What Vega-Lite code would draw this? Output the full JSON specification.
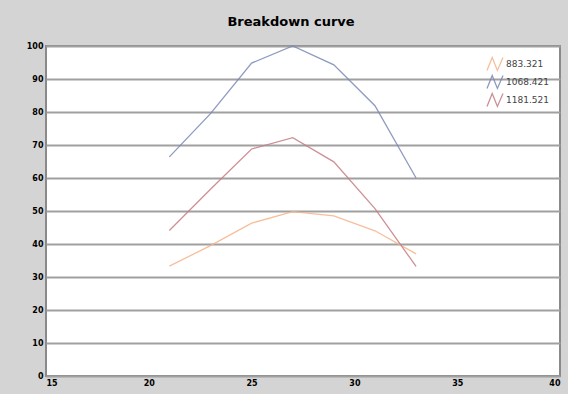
{
  "$schema": "https://vega.github.io/schema/vega-lite/v6.json",
  "autosize": "none",
  "width": 514,
  "height": 330,
  "padding": {"left": 46, "top": 46, "right": 8, "bottom": 18},
  "background": "#d4d4d4",
  "title": {
    "text": "Breakdown curve",
    "font": "DejaVu Sans",
    "fontSize": 13,
    "fontWeight": "bold",
    "color": "#000000",
    "anchor": "middle",
    "frame": "group",
    "dx": -12,
    "dy": 10,
    "baseline": "alphabetic",
    "offset": 13
  },
  "data": {
    "values": [
      {"x": 21, "y": 33.3, "series": "883.321"},
      {"x": 23, "y": 39.5, "series": "883.321"},
      {"x": 25, "y": 46.3, "series": "883.321"},
      {"x": 27, "y": 49.8, "series": "883.321"},
      {"x": 29, "y": 48.5, "series": "883.321"},
      {"x": 31, "y": 44.0, "series": "883.321"},
      {"x": 33, "y": 37.0, "series": "883.321"},
      {"x": 21, "y": 66.4, "series": "1068.421"},
      {"x": 23, "y": 79.5, "series": "1068.421"},
      {"x": 25, "y": 94.8, "series": "1068.421"},
      {"x": 27, "y": 100.0, "series": "1068.421"},
      {"x": 29, "y": 94.3, "series": "1068.421"},
      {"x": 31, "y": 81.9, "series": "1068.421"},
      {"x": 33, "y": 60.0, "series": "1068.421"},
      {"x": 21, "y": 44.1, "series": "1181.521"},
      {"x": 23, "y": 56.6, "series": "1181.521"},
      {"x": 25, "y": 68.8, "series": "1181.521"},
      {"x": 27, "y": 72.2, "series": "1181.521"},
      {"x": 29, "y": 64.9, "series": "1181.521"},
      {"x": 31, "y": 50.7, "series": "1181.521"},
      {"x": 33, "y": 33.2, "series": "1181.521"}
    ]
  },
  "mark": {"type": "line", "strokeWidth": 1.3, "opacity": 0.85},
  "encoding": {
    "x": {
      "field": "x",
      "type": "quantitative",
      "scale": {"domain": [15, 40], "nice": false},
      "axis": {
        "title": null,
        "values": [15, 20, 25, 30, 35, 40],
        "grid": false,
        "ticks": false,
        "domain": false,
        "labelFlush": true,
        "labelPadding": 3,
        "labelFont": "DejaVu Sans",
        "labelFontSize": 8,
        "labelFontWeight": "bold",
        "labelColor": "#000000"
      }
    },
    "y": {
      "field": "y",
      "type": "quantitative",
      "scale": {"domain": [0, 100], "nice": false},
      "axis": {
        "title": null,
        "values": [0, 10, 20, 30, 40, 50, 60, 70, 80, 90, 100],
        "grid": true,
        "gridColor": "#a0a0a0",
        "gridWidth": 2,
        "ticks": false,
        "domain": false,
        "labelPadding": 3,
        "labelFont": "DejaVu Sans",
        "labelFontSize": 8,
        "labelFontWeight": "bold",
        "labelColor": "#000000"
      }
    },
    "color": {
      "field": "series",
      "type": "nominal",
      "scale": {
        "domain": ["883.321", "1068.421", "1181.521"],
        "range": ["#f5b48a", "#7a88b4", "#c47c84"]
      },
      "legend": {
        "title": null,
        "orient": "none",
        "legendX": 440,
        "legendY": 9,
        "symbolType": "M-1,0.8L-0.35,-0.8L0.3,0.8L1,-0.8",
        "symbolSize": 256,
        "symbolFillColor": "transparent",
        "symbolStrokeWidth": 1.3,
        "symbolOpacity": 0.85,
        "rowPadding": 0,
        "labelOffset": 2,
        "labelFont": "DejaVu Sans",
        "labelFontSize": 9,
        "labelColor": "#444444"
      }
    }
  },
  "config": {
    "view": {"fill": "#ffffff", "stroke": "#8a8a8a", "strokeWidth": 2}
  }
}
